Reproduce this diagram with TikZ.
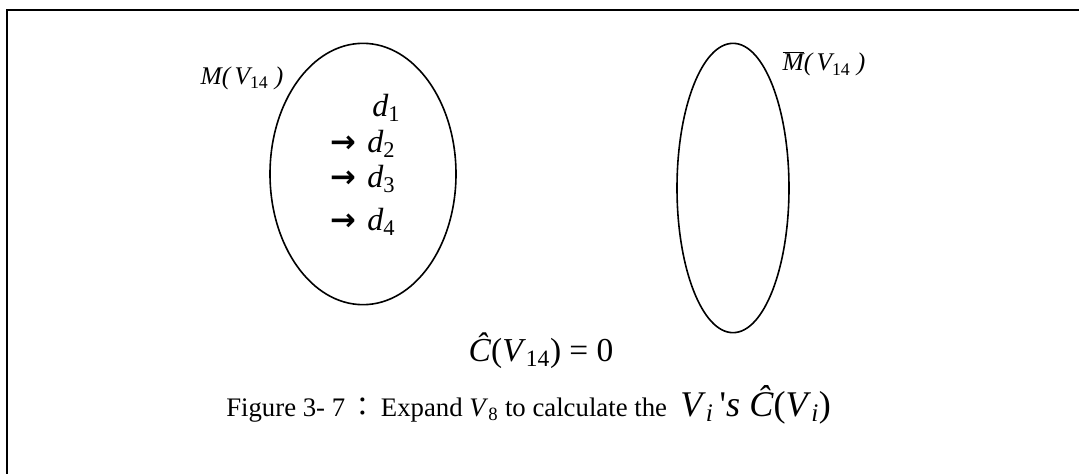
\documentclass[tikz,border=0pt]{standalone}
\usepackage{fontspec}
\setmainfont{Liberation Serif}
\newfontfamily\arrowfont{DejaVu Sans}
\newfontfamily\cjk{Noto Sans CJK TC}
\usetikzlibrary{shapes.geometric}

\tikzset{
  setbox/.style={draw,ellipse,line width=1.2pt,inner sep=0pt},
  lbl/.style={font=\fontsize{19bp}{22bp}\selectfont\itshape,inner sep=0pt},
  dlbl/.style={font=\fontsize{24bp}{28bp}\selectfont\itshape,inner sep=0pt},
  arrowlbl/.style={font=\fontsize{23bp}{26bp}\selectfont\arrowfont\bfseries,inner sep=0pt},
  eqlbl/.style={font=\fontsize{25bp}{29bp}\selectfont,inner sep=0pt},
  caplbl/.style={font=\fontsize{20bp}{24bp}\selectfont,inner sep=0pt}
}

\begin{document}
\begin{tikzpicture}[x=0.75pt,y=-0.75pt]
\useasboundingbox (0,0) rectangle (1079,474);
% open frame
\draw[line width=1.6pt] (7,474) -- (7,10) -- (1079,10);
% the two sets
\node[setbox,minimum width=139.5pt,minimum height=196pt] (mset) at (363,174) {};
\node[setbox,minimum width=84pt,minimum height=217pt] (mbarset) at (733,188) {};
\node[lbl] (mlabel) at (242,78) {M(\,V\textsubscript{\upshape 14}\ )};
\node[lbl] (mbarlabel) at (824,64) {$\overline{\mbox{\itshape M}}$(\,V\textsubscript{\upshape 14}\ )};
% members
\node[dlbl,anchor=base west] (d1) at (372,117) {d\textsubscript{\upshape 1}};
\node[dlbl,anchor=base west] (d2) at (367,153) {d\textsubscript{\upshape 2}};
\node[dlbl,anchor=base west] (d3) at (367,188) {d\textsubscript{\upshape 3}};
\node[dlbl,anchor=base west] (d4) at (367,231) {d\textsubscript{\upshape 4}};
\foreach \n in {2,3,4}
  \node[arrowlbl,anchor=base east] (a\n) at ([xshift=-8bp]d\n.base west) {→};
% value
\node[eqlbl] (cval) at (541,351) {\textit{Ĉ}(\textit{V}\textsubscript{14}) = 0};
% caption
\node[caplbl,anchor=base west] (caption) at (226,416) {Figure 3- 7\,{\cjk ：}\,Expand \textit{V}\textsubscript{8} to calculate the\ \ {\fontsize{27bp}{31bp}\selectfont\textit{V}\textsubscript{\textit{i}}\,\textquotesingle\textit{s}\ \textit{Ĉ}(\textit{V}\textsubscript{\textit{i}})}};
\end{tikzpicture}
\end{document}
